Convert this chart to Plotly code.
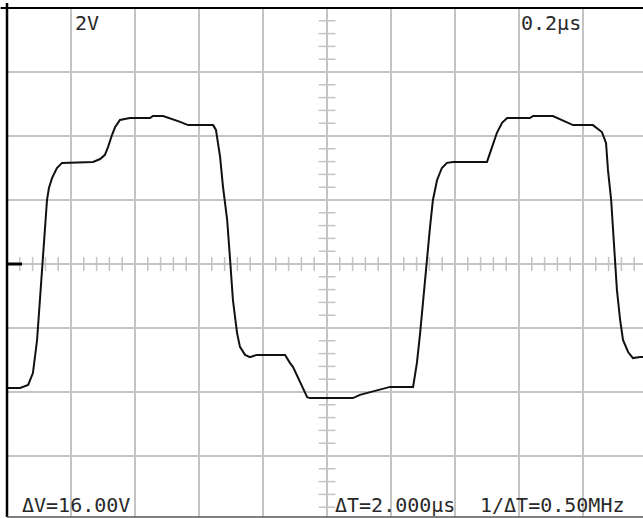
import numpy as np
import plotly.graph_objects as go

# Waveform (time in microseconds, amplitude in volts)
time_us = [0.0, 0.041, 0.066, 0.081, 0.094, 0.103, 0.109, 0.119, 0.125, 0.131,
           0.141, 0.156, 0.172, 0.269, 0.291, 0.306, 0.316, 0.328, 0.338, 0.353,
           0.384, 0.447, 0.456, 0.488, 0.509, 0.541, 0.566, 0.644, 0.653, 0.659,
           0.666, 0.675, 0.688, 0.697, 0.706, 0.719, 0.728, 0.744, 0.759, 0.781,
           0.869, 0.884, 0.894, 0.916, 0.938, 0.947, 1.081, 1.103, 1.134, 1.166,
           1.197, 1.269, 1.281, 1.291, 1.300, 1.313, 1.322, 1.331, 1.344, 1.359,
           1.375, 1.394, 1.500, 1.516, 1.531, 1.547, 1.563, 1.634, 1.644, 1.706,
           1.738, 1.769, 1.831, 1.859, 1.872, 1.878, 1.888, 1.894, 1.900, 1.906,
           1.916, 1.925, 1.941, 1.956, 1.978, 1.9875]
volts = [-3.875, -3.875, -3.78, -3.41, -2.375, -1.125, -0.03, 1.16, 2.0, 2.375,
         2.69, 3.0, 3.16, 3.19, 3.28, 3.41, 3.66, 4.03, 4.28, 4.5,
         4.56, 4.56, 4.625, 4.625, 4.56, 4.44, 4.34, 4.34, 4.19, 3.78,
         3.34, 2.41, 1.375, 0.16, -1.125, -2.16, -2.59, -2.84, -2.91, -2.84,
         -2.84, -3.09, -3.22, -3.69, -4.16, -4.19, -4.19, -4.09, -4.0, -3.91,
         -3.84, -3.84, -3.09, -2.16, -1.125, 0.125, 1.16, 2.0, 2.625, 3.0,
         3.16, 3.19, 3.19, 3.66, 4.1, 4.41, 4.56, 4.56, 4.625, 4.625,
         4.47, 4.34, 4.34, 4.125, 3.78, 2.94, 2.0, 1.06, 0.03, -0.81,
         -1.75, -2.375, -2.75, -2.94, -2.91, -2.91]

# Scope settings / readouts
volts_per_div = "2V"
time_per_div = "0.2μs"
delta_v = "ΔV=16.00V"
delta_t = "ΔT=2.000μs"
inv_delta_t = "1/ΔT=0.50MHz"

W, H = 643, 518
ML, MT, MB = 7, 8, 1
x_range = [0, 1.9875]
y_range = [-7.90625, 8]
grid_col = "#c4c4c4"

fig = go.Figure()

# minor ticks on the centre axes
xt = np.arange(0, 1.99, 0.04)
yt = np.arange(-7.6, 8.0, 0.4)
fig.add_trace(go.Scatter(x=xt, y=np.zeros_like(xt), mode="markers",
                         marker=dict(symbol="line-ns", size=10, color=grid_col,
                                     line=dict(color=grid_col, width=1.5)),
                         hoverinfo="skip", showlegend=False))
fig.add_trace(go.Scatter(x=np.full_like(yt, 1.0), y=yt, mode="markers",
                         marker=dict(symbol="line-ew", size=12, color=grid_col,
                                     line=dict(color=grid_col, width=1.5)),
                         hoverinfo="skip", showlegend=False))

fig.add_trace(go.Scatter(x=time_us, y=volts, mode="lines",
                         line=dict(color="#111111", width=2),
                         hoverinfo="skip", showlegend=False))

fig.update_xaxes(range=x_range, tick0=0, dtick=0.2, showgrid=True,
                 gridcolor=grid_col, gridwidth=1.5, zeroline=False,
                 showticklabels=False, ticks="", showline=False, fixedrange=True)
fig.update_yaxes(range=y_range, tick0=0, dtick=2, showgrid=True,
                 gridcolor=grid_col, gridwidth=1.5, zeroline=False,
                 showticklabels=False, ticks="", showline=False, fixedrange=True)

shapes = [
    dict(type="line", xref="paper", yref="paper", x0=0, x1=0, y0=0, y1=1.01,
         line=dict(color="#000000", width=2.5)),
    dict(type="line", xref="paper", yref="paper", x0=-0.01, x1=1, y0=1, y1=1,
         line=dict(color="#000000", width=2)),
    dict(type="line", xref="paper", yref="paper", x0=0, x1=1, y0=0, y1=0,
         line=dict(color="#555555", width=1.5)),
    dict(type="line", xref="paper", yref="y", x0=0, x1=15 / 636, y0=0, y1=0,
         line=dict(color="#000000", width=3)),
]

font = dict(family="DejaVu Sans Mono", size=20, color="#2a2a2a")


def px_x(px):
    return (px - ML) / (W - ML)


def px_y(py):
    return (H - MB - py) / (H - MT - MB)


annos = [
    (volts_per_div, 73, 23),
    (time_per_div, 519, 23),
    (delta_v, 20, 505),
    (delta_t, 333, 505),
    (inv_delta_t, 478, 505),
]
annotations = [dict(text=t, xref="paper", yref="paper", x=px_x(x), y=px_y(y),
                    xanchor="left", yanchor="middle", showarrow=False, font=font)
               for t, x, y in annos]

fig.update_layout(width=W, height=H, margin=dict(l=ML, r=0, t=MT, b=MB, pad=0),
                  paper_bgcolor="white", plot_bgcolor="white",
                  shapes=shapes, annotations=annotations, showlegend=False)

fig.write_html("out.html")
